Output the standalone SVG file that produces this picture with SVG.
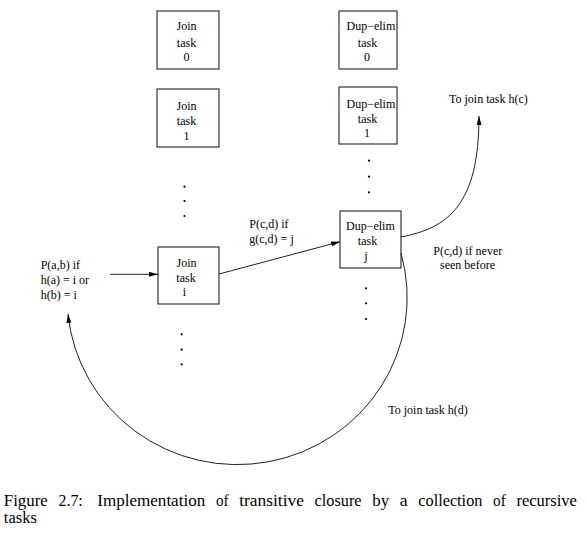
<svg xmlns="http://www.w3.org/2000/svg" width="586" height="537" viewBox="0 0 586 537">
<style>
  .box { fill: #fff; stroke: #222; stroke-width: 1.1; }
  .t { font-family: "Liberation Serif", "Times New Roman", serif; font-size: 12px; fill: #000; }
  .c { text-anchor: middle; }
  .cap { font-family: "Liberation Serif", "Times New Roman", serif; font-size: 16px; fill: #000; }
  .conn { fill: none; stroke: #222; stroke-width: 1; }
  .dot { fill: #000; }
</style>
<defs>
  <marker id="arr" viewBox="0 0 9 5" refX="9" refY="2.5" markerWidth="9" markerHeight="5" markerUnits="userSpaceOnUse" orient="auto">
    <path d="M0,0 L9,2.5 L0,5 z" fill="#000"/>
  </marker>
</defs>
<rect width="586" height="537" fill="#fff"/>

<g id="join0">
  <rect class="box" x="157" y="11" width="62" height="58"/>
  <text class="t c" x="186.5" y="30">Join</text>
  <text class="t c" x="186.5" y="46.5">task</text>
  <text class="t c" x="186.5" y="61">0</text>
</g>
<g id="join1">
  <rect class="box" x="157" y="89" width="62" height="58"/>
  <text class="t c" x="186.5" y="110">Join</text>
  <text class="t c" x="186.5" y="125">task</text>
  <text class="t c" x="186.5" y="140">1</text>
</g>
<g id="joini">
  <rect class="box" x="158" y="247" width="61" height="57"/>
  <text class="t c" x="186.5" y="266.5">Join</text>
  <text class="t c" x="186" y="281.5">task</text>
  <text class="t c" x="184.5" y="296">i</text>
</g>
<g id="dup0">
  <rect class="box" x="339" y="11" width="58" height="58"/>
  <text class="t" x="346.5" y="30">Dup−elim</text>
  <text class="t c" x="367.5" y="46.5">task</text>
  <text class="t c" x="367" y="61">0</text>
</g>
<g id="dup1">
  <rect class="box" x="339" y="87" width="58" height="57"/>
  <text class="t" x="346.5" y="108">Dup−elim</text>
  <text class="t c" x="367.5" y="122.5">task</text>
  <text class="t c" x="367" y="137">1</text>
</g>
<g id="dupj">
  <rect class="box" x="340" y="211" width="61" height="57"/>
  <text class="t" x="346" y="230">Dup−elim</text>
  <text class="t c" x="367.5" y="245">task</text>
  <text class="t c" x="366" y="259.5">j</text>
</g>

<g id="dots">
  <circle class="dot" cx="184.5" cy="186.7" r="1.1"/>
  <circle class="dot" cx="184.5" cy="201" r="1.1"/>
  <circle class="dot" cx="184.5" cy="216" r="1.1"/>
  <circle class="dot" cx="369" cy="160.7" r="1.1"/>
  <circle class="dot" cx="369" cy="176.7" r="1.1"/>
  <circle class="dot" cx="369" cy="192.3" r="1.1"/>
  <circle class="dot" cx="366" cy="288.3" r="1.1"/>
  <circle class="dot" cx="366" cy="303.3" r="1.1"/>
  <circle class="dot" cx="366" cy="319" r="1.1"/>
  <circle class="dot" cx="181.7" cy="334.3" r="1.1"/>
  <circle class="dot" cx="181.7" cy="349.7" r="1.1"/>
  <circle class="dot" cx="181.7" cy="364.3" r="1.1"/>
</g>

<g id="connectors">
  <line class="conn" x1="110" y1="274.3" x2="158" y2="274.3" marker-end="url(#arr)"/>
  <line class="conn" x1="219" y1="274" x2="340" y2="241.7" marker-end="url(#arr)"/>
  <path class="conn" d="M401,237 C448,228 479,205 479,116" marker-end="url(#arr)"/>
  <path class="conn" d="M401,253 A170,167 0 1 1 68,314" marker-end="url(#arr)"/>
</g>

<g id="labels">
  <text class="t" x="40.7" y="269">P(a,b) if</text>
  <text class="t" x="40.7" y="284">h(a) = i or</text>
  <text class="t" x="40.7" y="299">h(b) = i</text>
  <text class="t" x="249.3" y="227.5">P(c,d) if</text>
  <text class="t" x="249.3" y="243">g(c,d) = j</text>
  <text class="t" x="449" y="103">To join task h(c)</text>
  <text class="t" x="433.3" y="254.5">P(c,d) if never</text>
  <text class="t" x="440" y="268.5">seen before</text>
  <text class="t" x="388.3" y="414">To join task h(d)</text>
</g>

<g id="caption">
  <text class="cap" y="505.5"><tspan x="3.8" textLength="44" lengthAdjust="spacingAndGlyphs">Figure</tspan><tspan x="58.5" textLength="24.3" lengthAdjust="spacingAndGlyphs">2.7:</tspan><tspan x="97.3" textLength="107.9" lengthAdjust="spacingAndGlyphs">Implementation</tspan><tspan x="215.9" textLength="12.6" lengthAdjust="spacingAndGlyphs">of</tspan><tspan x="239.2" textLength="64.7" lengthAdjust="spacingAndGlyphs">transitive</tspan><tspan x="314.6" textLength="46.9" lengthAdjust="spacingAndGlyphs">closure</tspan><tspan x="372.2" textLength="16.9" lengthAdjust="spacingAndGlyphs">by</tspan><tspan x="399.8" textLength="7.8" lengthAdjust="spacingAndGlyphs">a</tspan><tspan x="418.3" textLength="64.1" lengthAdjust="spacingAndGlyphs">collection</tspan><tspan x="493.1" textLength="12.6" lengthAdjust="spacingAndGlyphs">of</tspan><tspan x="516.4" textLength="60.4" lengthAdjust="spacingAndGlyphs">recursive</tspan></text>
  <text class="cap" x="3.8" y="523" textLength="33" lengthAdjust="spacingAndGlyphs">tasks</text>
</g>
</svg>
